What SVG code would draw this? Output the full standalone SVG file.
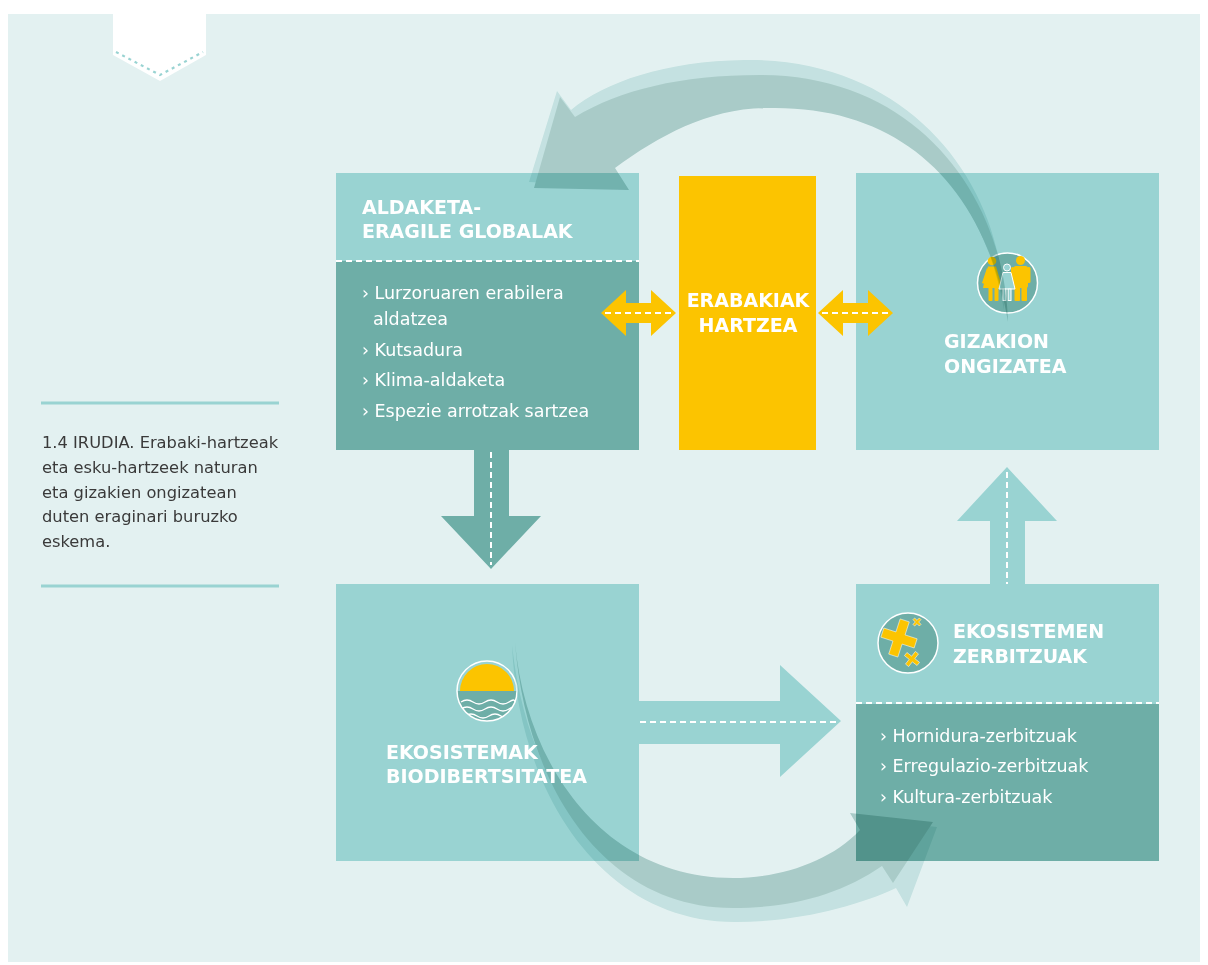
<svg xmlns="http://www.w3.org/2000/svg" width="1208" height="965" viewBox="0 0 1208 965">
<defs>
<style>
.bg{fill:#e3f1f1}
.lt{fill:#99d3d2}
.dk{fill:#6eaea7}
.yl{fill:#fcc400}
.ttl{font-family:"DejaVu Sans","Liberation Sans",sans-serif;font-weight:bold;font-size:19px;fill:#fff}
.itm{font-family:"DejaVu Sans","Liberation Sans",sans-serif;font-size:17.5px;fill:#fff}
.cap{font-family:"DejaVu Sans","Liberation Sans",sans-serif;font-size:16.3px;fill:#3a3a3a}
.dash{stroke:#fff;stroke-width:2;stroke-dasharray:6 4;fill:none}
.ring{stroke:#fff;stroke-width:1.5}
</style>
<clipPath id="cw"><circle cx="487" cy="691" r="30"/></clipPath>
</defs>
<rect width="1208" height="965" fill="#fff"/>
<rect class="bg" x="8" y="14" width="1192" height="948"/>

<g id="tab">
<polygon points="113,14 206,14 206,55 160,81 113,55" fill="#fff"/>
<polyline points="116,52 160,75 203,52" fill="none" stroke="#99d3d2" stroke-width="2.2" stroke-dasharray="3 4"/>
</g>

<g id="caption">
<line x1="41" y1="403" x2="279" y2="403" stroke="#99d3d2" stroke-width="3"/>
<text class="cap" x="42" y="448">1.4 IRUDIA. Erabaki-hartzeak</text>
<text class="cap" x="42" y="473">eta esku-hartzeek naturan</text>
<text class="cap" x="42" y="498">eta gizakien ongizatean</text>
<text class="cap" x="42" y="522">duten eraginari buruzko</text>
<text class="cap" x="42" y="547">eskema.</text>
<line x1="41" y1="586" x2="279" y2="586" stroke="#99d3d2" stroke-width="3"/>
</g>

<g id="aldaketa">
<rect class="lt" x="336" y="173" width="303" height="88"/>
<rect class="dk" x="336" y="261" width="303" height="189"/>
<line class="dash" x1="336" y1="261" x2="639" y2="261"/>
</g>

<g id="erabakiak">
<rect class="yl" x="679" y="176" width="137" height="274"/>
</g>

<g id="gizakion">
<rect class="lt" x="856" y="173" width="303" height="277"/>
<g id="icon-people">
<circle class="dk ring" cx="1007.5" cy="283" r="30"/>
<g class="yl">
<circle cx="992" cy="261" r="4.3"/>
<path d="M988 266.5 H996 L1002.5 288 H983 L984 283 Z"/>
<path d="M987 268 L982 283 L984.5 284 L989 270 Z"/>
<rect x="988.5" y="287" width="4" height="14" rx="1"/>
<rect x="994.5" y="287" width="4" height="14" rx="1"/>
<circle cx="1020.5" cy="260.5" r="4.5"/>
<rect x="1013.5" y="266" width="14.5" height="22" rx="2.5"/>
<rect x="1011" y="267" width="3.5" height="16" rx="1.5"/>
<rect x="1027" y="267" width="3.5" height="16" rx="1.5"/>
<rect x="1014.5" y="286" width="5.5" height="15" rx="1"/>
<rect x="1021.5" y="286" width="5.5" height="15" rx="1"/>
</g>
<g fill="#99d3d2" stroke="#fff" stroke-width="1">
<circle cx="1007" cy="267.5" r="3.5"/>
<path d="M1003 272.5 H1011 L1015 289 H999 Z"/>
<rect x="1003" y="289" width="2.8" height="11.5"/>
<rect x="1008.2" y="289" width="2.8" height="11.5"/>
</g>
</g>
</g>

<g id="ekosistemak">
<rect class="lt" x="336" y="584" width="303" height="277"/>
<g id="icon-water">
<g clip-path="url(#cw)">
<path class="yl" d="M460 691 A27 27 0 0 1 514 691 Z"/>
<rect class="dk" x="455" y="691" width="64" height="32"/>
<path d="M461 702 q6 -4 12 0 t12 0 t12 0 t12 0 t6 0" fill="none" stroke="#fff" stroke-width="1.3"/>
<path d="M461 709 q6 -4 12 0 t12 0 t12 0 t12 0 t6 0" fill="none" stroke="#fff" stroke-width="1.3"/>
<path d="M465 716 q6 -4 12 0 t12 0 t12 0 t7 0" fill="none" stroke="#fff" stroke-width="1.3"/>
</g>
<circle cx="487" cy="691" r="30" fill="none" class="ring"/>
</g>
</g>

<g id="zerbitzuak">
<rect class="lt" x="856" y="584" width="303" height="120"/>
<rect class="dk" x="856" y="704" width="303" height="157"/>
<line class="dash" x1="856" y1="703" x2="1159" y2="703"/>
<g id="icon-services">
<circle class="dk ring" cx="908" cy="643" r="30"/>
<g class="yl" stroke="#fff" stroke-opacity="0.6" stroke-width="0.8">
<path transform="translate(899 638) rotate(18)" d="M-4.8 -18.5 H4.8 V-4.8 H17.5 V4.8 H4.8 V18.5 H-4.8 V4.8 H-17.5 V-4.8 H-4.8 Z"/>
<path transform="translate(912 659) rotate(38)" d="M-2 -8 H2 V-2 H8 V2 H2 V8 H-2 V2 H-8 V-2 H-2 Z"/>
<path transform="translate(917 622) rotate(45)" d="M-1.2 -4.5 H1.2 V-1.2 H4.5 V1.2 H1.2 V4.5 H-1.2 V1.2 H-4.5 V-1.2 H-1.2 Z"/>
</g>
</g>
</g>

<g id="connectors">
<g id="arrow-down">
<polygon class="dk" points="474,450 509,450 509,516 541,516 491,569 441,516 474,516"/>
<line class="dash" x1="491" y1="452" x2="491" y2="565" stroke-dasharray="6 5"/>
</g>
<g id="arrow-up">
<polygon class="lt" points="990,584 1025,584 1025,521 1057,521 1007,467 957,521 990,521"/>
<line class="dash" x1="1007" y1="472" x2="1007" y2="584" stroke-dasharray="6 5"/>
</g>
<g id="arrow-right">
<polygon class="lt" points="638,701 780,701 780,665 841,721 780,777 780,744 638,744"/>
<line class="dash" x1="640" y1="722" x2="836" y2="722" stroke-dasharray="6 5"/>
</g>
<g id="arrow-yellow-left">
<polygon class="yl" points="601,313 626,290 626,303 651,303 651,290 676,313 651,336 651,323 626,323 626,336"/>
<line class="dash" x1="605" y1="313" x2="672" y2="313" stroke-dasharray="5 4"/>
</g>
<g id="arrow-yellow-right">
<polygon class="yl" points="818,313 843,290 843,303 868,303 868,290 893,313 868,336 868,323 843,323 843,336"/>
<line class="dash" x1="822" y1="313" x2="889" y2="313" stroke-dasharray="5 4"/>
</g>
<g id="arc-top" style="mix-blend-mode:multiply">
<path fill="#dcefee" d="M1004 310 C1005 190 915 58 745 60 C665 61 605 82 571 110 L557 91 L529 182 L622 186 L612 166 C660 132 710 104 768 104 C895 102 982 180 1004 310 Z"/>
<path fill="#bed7d4" d="M1008 322 C1005 200 920 75 760 75 C680 75 620 90 575 117 L560 97 L534 188 L629 190 L615 168 C660 135 710 108 768 108 C900 105 985 185 1008 322 Z"/>
</g>
<g id="arc-bottom" style="mix-blend-mode:multiply">
<path fill="#dcefee" d="M512 645 C518 790 600 922 735 922 C800 922 860 905 896 888 L907 907 L937 827 L858 818 L869 838 C830 868 780 882 733 882 C600 882 528 790 512 645 Z"/>
<path fill="#bed7d4" d="M515 642 C525 760 600 878 733 878 C780 878 830 862 860 830 L850 813 L933 822 L893 883 L882 866 C840 895 790 908 733 908 C600 908 525 780 515 642 Z"/>
</g>
</g>

<g id="aldaketa-label">
<text class="ttl" x="362" y="214">ALDAKETA-</text>
<text class="ttl" x="362" y="238">ERAGILE GLOBALAK</text>
<text class="itm" x="362" y="299">› Lurzoruaren erabilera</text>
<text class="itm" x="373" y="325">aldatzea</text>
<text class="itm" x="362" y="356">› Kutsadura</text>
<text class="itm" x="362" y="386">› Klima-aldaketa</text>
<text class="itm" x="362" y="417">› Espezie arrotzak sartzea</text>
</g>
<g id="erabakiak-label">
<text class="ttl" x="748" y="307" text-anchor="middle">ERABAKIAK</text>
<text class="ttl" x="748" y="332" text-anchor="middle">HARTZEA</text>
</g>
<g id="gizakion-label">
<text class="ttl" x="944" y="348">GIZAKION</text>
<text class="ttl" x="944" y="373">ONGIZATEA</text>
</g>
<g id="ekosistemak-label">
<text class="ttl" x="386" y="759">EKOSISTEMAK</text>
<text class="ttl" x="386" y="783">BIODIBERTSITATEA</text>
</g>
<g id="zerbitzuak-label">
<text class="ttl" x="953" y="638">EKOSISTEMEN</text>
<text class="ttl" x="953" y="663">ZERBITZUAK</text>
<text class="itm" x="880" y="742">› Hornidura-zerbitzuak</text>
<text class="itm" x="880" y="772">› Erregulazio-zerbitzuak</text>
<text class="itm" x="880" y="803">› Kultura-zerbitzuak</text>
</g>
</svg>
